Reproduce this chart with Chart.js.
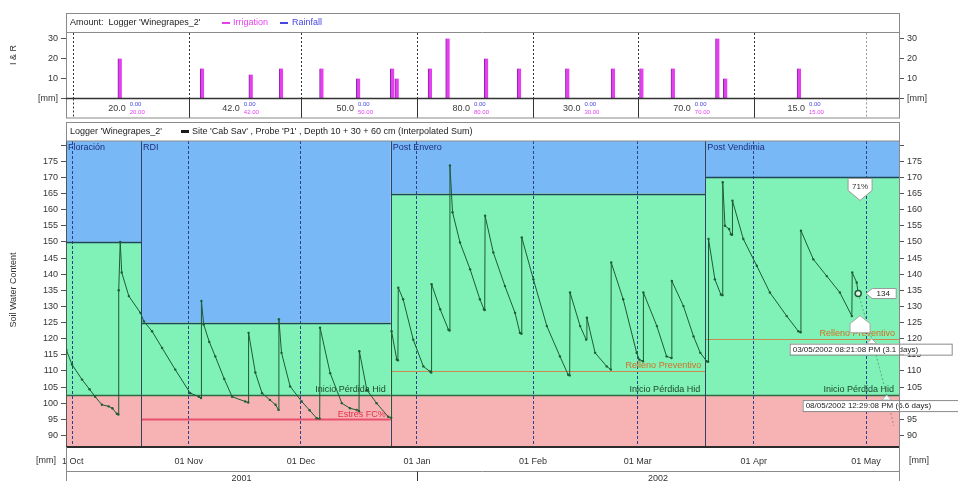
<!DOCTYPE html>
<html>
<head>
<meta charset="utf-8">
<script src="https://cdn.jsdelivr.net/npm/chart.js@4/dist/chart.umd.min.js"></script>
<style>
  html, body { margin: 0; padding: 0; background: #fff; }
  #wrap { position: relative; width: 958px; height: 481px; overflow: hidden; }
  canvas { position: absolute; left: 0; }
  #top { top: 0; }
  #main { top: 120px; }
</style>
</head>
<body>
<div id="wrap">
  <canvas id="top" width="958" height="120"></canvas>
  <canvas id="main" width="958" height="361"></canvas>
</div>
<script>
// Day numbers count from 1 Oct 2001 (day 0).
const dayMin = -1.79;
const dayMax = 220.8;

const monthStarts = [0, 31, 61, 92, 123, 151, 182, 212];
const monthLabels = ['1 Oct', '01 Nov', '01 Dec', '01 Jan', '01 Feb', '01 Mar', '01 Apr', '01 May'];
const yearStarts = [dayMin, 92];
const yearEnds = [92, dayMax];
const yearLabels = ['2001', '2002'];

// Irrigation / rainfall events [mm]
const irrigationDays = [12.6, 34.6, 47.6, 55.7, 66.5, 76.3, 85.4, 86.6, 95.5, 100.2, 110.5, 119.3, 132.2, 144.4, 152.0, 160.4, 172.3, 174.4, 194.1];
const irrigationMm   = [20,   15,   12,   15,   15,   10,   15,   10,   15,   30,    20,    15,    15,    15,    15,    15,    30,    10,    15];
const rainfallDays = [];
const rainfallMm = [];

// Soil water content, Depth 10 + 30 + 60 cm (interpolated sum) [mm]
const swcDays = [
  -1.7, -0.2, 2.5, 4.5, 6.0, 7.8, 9.6, 10.6, 11.8, 12.2, 12.3, 12.7, 13.1, 15.0, 18.1, 19.0, 21.2, 23.9, 27.4, 31.4, 33.7, 34.3,
  34.4, 35.0, 36.5, 38.1, 40.5, 42.6, 46.1, 46.9, 47.0, 48.8, 50.6, 52.7, 54.2, 55.0, 55.1, 55.8, 58.1, 61.2, 63.3, 65.2, 66.0,
  66.1, 68.8, 71.9, 74.1, 75.9, 76.5, 76.6, 78.6, 81.2, 84.3, 85.1,
  85.2, 86.6, 86.9, 87.0, 88.3, 91.0, 93.7, 95.5, 95.8, 95.9, 98.2, 100.4, 100.7, 100.8, 101.5, 103.5, 106.2, 108.8, 109.9, 110.1,
  110.2, 112.4, 115.5, 118.2, 119.5, 119.9, 120.0, 123.1, 126.7, 130.2, 132.4, 132.8, 132.9, 135.6, 137.2, 137.4, 139.6, 142.7, 143.8,
  143.9, 147.1, 150.7, 151.4, 152.4, 152.5, 156.1, 158.7, 160.0, 160.1, 163.2, 165.9, 167.7, 169.4, 169.8,
  169.9, 171.6, 173.2, 173.6, 173.7, 174.3, 175.4, 175.9, 176.2, 176.3, 179.2, 182.8, 186.3, 190.8, 193.9, 194.5,
  194.6, 197.9, 201.5, 205.0, 208.2, 208.3, 209.5, 209.9
];
const swcValues = [
  116.5, 112.0, 107.3, 104.3, 102.0, 99.5, 99.0, 98.4, 96.7, 96.5, 135.0, 150.0, 140.5, 133.2, 128.0, 125.4, 122.3, 117.1, 110.4, 103.1, 102.0, 101.6,
  131.7, 124.4, 119.0, 114.5, 107.5, 102.0, 100.5, 100.2, 121.8, 109.5, 103.1, 101.0, 99.5, 97.9, 126.0, 115.6, 105.2, 100.5, 97.8, 95.3, 95.2,
  123.4, 109.3, 100.0, 98.4, 97.9, 97.5, 116.1, 104.1, 100.0, 95.8, 95.5,
  122.3, 113.5, 113.3, 135.8, 132.2, 119.7, 111.4, 109.8, 109.5, 136.9, 129.1, 122.8, 122.5, 173.7, 159.2, 149.8, 141.5, 132.2, 129.1, 128.9,
  158.1, 146.7, 136.3, 128.0, 121.8, 121.5, 151.4, 138.4, 123.9, 114.5, 108.8, 108.6, 134.3, 123.9, 119.7, 126.5, 115.6, 111.4, 110.4,
  143.6, 132.2, 115.6, 113.5, 113.0, 134.3, 123.9, 114.5, 114.0, 137.9, 130.1, 120.7, 115.6, 113.0, 112.8,
  150.9, 138.4, 133.7, 133.5, 168.5, 155.0, 154.0, 152.4, 152.2, 162.8, 150.9, 142.6, 134.3, 127.0, 122.3, 122.0,
  153.5, 144.6, 139.4, 134.3, 127.0, 140.5, 137.4, 134.0
];

// Trend projection from the latest reading
const forecastDays = [209.9, 213.5, 217.5, 219.4];
const forecastValues = [134.0, 120.0, 102.5, 93.0];

// Crop stages and their thresholds [mm]
const stageNames  = ['Floración', 'RDI', 'Post Envero', 'Post Vendimia'];
const stageStarts = [dayMin, 18.25, 85.0, 169.0];
const stageEnds   = [18.25, 85.0, 169.0, dayMax];
const fullPoints  = [150, 125, 165, 170];
const onsetPoints = [102.5, 102.5, 102.5, 102.5];
const onsetLabels = [null, 'Inicio Pérdida Hid', 'Inicio Pérdida Hid', 'Inicio Pérdida Hid'];
const stressPoints = [null, 95, null, null];
const stressLabels = [null, 'Estrés FC%', null, null];
const refillPoints = [null, null, 110, 120];
const refillLabels = [null, null, 'Relleno Preventivo', 'Relleno Preventivo'];

// Current reading and forecast crossings
const currentDay = 209.9, currentValue = 134;
const fullPctDay = 210.4, fullPctText = '71%';
const crossDays = [213.5, 217.5];
const crossValues = [120, 102.5];
const crossTexts = ['03/05/2002 08:21:08 PM (3.1 days)', '08/05/2002 12:29:08 PM (6.6 days)'];

const FONT = "'Liberation Sans', Arial, sans-serif";
const C = {
  blue: '#79b8f7', green: '#80f1b7', red: '#f7b3b3',
  fullLine: '#1f4658', stageLine: '#33425e', onsetLine: '#2e6a45',
  stress: '#e9506b', refill: '#c98a52', grid: '#2b3d90',
  swc: '#1d5c35', text: '#333', irr: '#e63ff0', irrEdge: '#7b2a9e', rain: '#4646e0'
};

function font(sz, w) { return (w || '') + ' ' + sz + 'px ' + FONT; }

// ---------- Amount panel ----------
const monthTotals = monthStarts.slice(0, -1).map((s, i) => {
  const e = monthStarts[i + 1];
  const sum = (days, vals) => days.reduce((t, d, k) => (d >= s && d < e ? t + vals[k] : t), 0);
  return { irr: sum(irrigationDays, irrigationMm), rain: sum(rainfallDays, rainfallMm) };
});

const amountPlugin = {
  id: 'amountPanel',
  beforeDraw(chart) {
    const { ctx } = chart;
    ctx.save();
    ctx.fillStyle = '#fff';
    ctx.fillRect(0, 0, chart.width, chart.height);
    ctx.restore();
  },
  beforeDatasetsDraw(chart) {
    const { ctx, chartArea: a, scales: { x } } = chart;
    ctx.save();
    monthStarts.forEach((d, i) => {
      const px = Math.round(x.getPixelForValue(d)) + 0.5;
      const last = i === monthStarts.length - 1;
      ctx.strokeStyle = last ? '#9a9a9a' : '#333';
      ctx.lineWidth = 1;
      ctx.setLineDash([2, 2]);
      ctx.beginPath(); ctx.moveTo(px, a.top); ctx.lineTo(px, a.bottom); ctx.stroke();
      ctx.setLineDash(i === 0 || last ? [2, 2] : []);
      ctx.beginPath(); ctx.moveTo(px, a.bottom); ctx.lineTo(px, 118); ctx.stroke();
    });
    ctx.restore();
  },
  afterDraw(chart) {
    const { ctx, chartArea: a, scales: { x } } = chart;
    ctx.save();
    // frame
    ctx.strokeStyle = '#8a8a8a'; ctx.lineWidth = 1;
    ctx.strokeRect(a.left + 0.5, 13.5, a.right - a.left, 104.5);
    ctx.beginPath(); ctx.moveTo(a.left, 32.5); ctx.lineTo(a.right, 32.5); ctx.stroke();
    ctx.strokeStyle = '#333'; ctx.lineWidth = 1.5;
    ctx.beginPath(); ctx.moveTo(a.left, a.bottom); ctx.lineTo(a.right, a.bottom); ctx.stroke();
    // header
    ctx.textBaseline = 'middle';
    ctx.font = font(9);
    ctx.fillStyle = '#222';
    ctx.fillText("Amount:  Logger 'Winegrapes_2'", 70, 23);
    ctx.fillStyle = C.irr; ctx.fillRect(222, 22, 8, 2);
    ctx.fillText('Irrigation', 233, 23);
    ctx.fillStyle = C.rain; ctx.fillRect(280, 22, 8, 2);
    ctx.fillText('Rainfall', 292, 23);
    // monthly totals
    monthTotals.forEach((t, i) => {
      const cx = (x.getPixelForValue(monthStarts[i]) + x.getPixelForValue(monthStarts[i + 1])) / 2;
      ctx.font = font(9); ctx.fillStyle = '#3a3a3a'; ctx.textAlign = 'right';
      ctx.fillText((t.irr + t.rain).toFixed(1), cx - 5, 108.5);
      ctx.font = font(6); ctx.textAlign = 'left';
      ctx.fillStyle = C.rain; ctx.fillText(t.rain.toFixed(2), cx - 1, 104);
      ctx.fillStyle = C.irr; ctx.fillText(t.irr.toFixed(2), cx - 1, 112);
    });
    // axis title
    ctx.translate(14, 55); ctx.rotate(-Math.PI / 2);
    ctx.textAlign = 'center'; ctx.font = font(9); ctx.fillStyle = '#333';
    ctx.fillText('I & R', 0, 0);
    ctx.restore();
  }
};

const amountAxis = (pos, w) => ({
  position: pos, min: 0, max: 32.75,
  afterFit: s => { s.width = w; },
  ticks: { stepSize: 10, includeBounds: false, padding: 3, color: C.text, font: { size: 9, family: FONT },
           callback: v => (v === 0 ? '[mm]' : v) },
  grid: { drawOnChartArea: false, tickLength: 5, color: '#555' },
  border: { color: '#555' }
});

new Chart(document.getElementById('top'), {
  type: 'bar',
  data: {
    datasets: [
      { label: 'Irrigation', data: irrigationDays.map((d, i) => ({ x: d, y: irrigationMm[i] })),
        backgroundColor: C.irr, borderColor: C.irrEdge, borderWidth: { left: 1, right: 0, top: 0, bottom: 0 },
        barThickness: 4, grouped: false },
      { label: 'Rainfall', data: rainfallDays.map((d, i) => ({ x: d, y: rainfallMm[i] })),
        backgroundColor: C.rain, barThickness: 4, grouped: false }
    ]
  },
  options: {
    responsive: false, animation: false,
    layout: { padding: { top: 33, bottom: 21.5, left: 0, right: 0 } },
    plugins: { legend: { display: false }, tooltip: { enabled: false } },
    scales: {
      x: { type: 'linear', min: dayMin, max: dayMax, offset: false, display: false },
      y: amountAxis('left', 66),
      y2: amountAxis('right', 59)
    }
  },
  plugins: [amountPlugin]
});

// ---------- Soil water content panel ----------
function textBox(ctx, x0, y0, w, h, txt, sz) {
  ctx.fillStyle = '#fff'; ctx.strokeStyle = '#8a8a8a'; ctx.lineWidth = 1;
  ctx.fillRect(x0, y0, w, h); ctx.strokeRect(x0 + 0.5, y0 + 0.5, w, h);
  ctx.fillStyle = '#222'; ctx.font = font(sz); ctx.textAlign = 'left'; ctx.textBaseline = 'middle';
  ctx.fillText(txt, x0 + 3, y0 + h / 2 + 0.5);
}

const swcPlugin = {
  id: 'swcPanel',
  beforeDraw(chart) {
    const { ctx, chartArea: a, scales: { x, y } } = chart;
    ctx.save();
    ctx.fillStyle = '#fff'; ctx.fillRect(0, 0, chart.width, chart.height);
    stageStarts.forEach((s, i) => {
      const x0 = x.getPixelForValue(s), x1 = x.getPixelForValue(stageEnds[i]);
      const yF = y.getPixelForValue(fullPoints[i]), yO = y.getPixelForValue(onsetPoints[i]);
      ctx.fillStyle = C.blue; ctx.fillRect(x0, a.top, x1 - x0, yF - a.top);
      ctx.fillStyle = C.green; ctx.fillRect(x0, yF, x1 - x0, yO - yF);
      ctx.fillStyle = C.red; ctx.fillRect(x0, yO, x1 - x0, a.bottom - yO);
    });
    ctx.restore();
  },
  beforeDatasetsDraw(chart) {
    const { ctx, chartArea: a, scales: { x, y } } = chart;
    ctx.save();
    stageStarts.forEach((s, i) => {
      const x0 = x.getPixelForValue(s), x1 = x.getPixelForValue(stageEnds[i]);
      const hline = (v, col, w) => {
        const py = Math.round(y.getPixelForValue(v)) + 0.5;
        ctx.strokeStyle = col; ctx.lineWidth = w;
        ctx.beginPath(); ctx.moveTo(x0, py); ctx.lineTo(x1, py); ctx.stroke();
      };
      hline(fullPoints[i], C.fullLine, 1.5);
      hline(onsetPoints[i], C.onsetLine, 1.5);
      if (stressPoints[i] !== null) hline(stressPoints[i], C.stress, 2);
      if (refillPoints[i] !== null) hline(refillPoints[i], C.refill, 1.2);
      if (i > 0) {
        const px = Math.round(x0) + 0.5;
        ctx.strokeStyle = C.stageLine; ctx.lineWidth = 1;
        ctx.beginPath(); ctx.moveTo(px, a.top); ctx.lineTo(px, a.bottom); ctx.stroke();
      }
    });
    ctx.restore();
  },
  afterDraw(chart) {
    const { ctx, chartArea: a, scales: { x, y } } = chart;
    ctx.save();
    ctx.textBaseline = 'middle';
    // stage names and threshold labels
    stageStarts.forEach((s, i) => {
      const x0 = x.getPixelForValue(s), x1 = x.getPixelForValue(stageEnds[i]);
      ctx.font = font(9); ctx.textAlign = 'left'; ctx.fillStyle = '#1f2f7a';
      ctx.fillText(stageNames[i], Math.max(x0, a.left) + 2, a.top + 7);
      ctx.textAlign = 'right';
      if (onsetLabels[i]) {
        ctx.fillStyle = '#1c4a2b';
        ctx.fillText(onsetLabels[i], x1 - 5, y.getPixelForValue(onsetPoints[i]) - 6);
      }
      if (stressLabels[i]) {
        ctx.fillStyle = '#e2304c';
        ctx.fillText(stressLabels[i], x1 - 5, y.getPixelForValue(stressPoints[i]) - 5);
      }
      if (refillLabels[i]) {
        ctx.fillStyle = '#d27022';
        ctx.fillText(refillLabels[i], x1 - 4, y.getPixelForValue(refillPoints[i]) - 5);
      }
    });

    // full-point percentage marker
    const sx = x.getPixelForValue(fullPctDay), sy = y.getPixelForValue(fullPoints[3]);
    ctx.beginPath();
    ctx.moveTo(sx - 12, sy + 1); ctx.lineTo(sx + 12, sy + 1); ctx.lineTo(sx + 12, sy + 13);
    ctx.lineTo(sx, sy + 23); ctx.lineTo(sx - 12, sy + 13); ctx.closePath();
    ctx.fillStyle = '#fff'; ctx.fill(); ctx.strokeStyle = '#999'; ctx.lineWidth = 1; ctx.stroke();
    ctx.fillStyle = '#333'; ctx.font = font(8); ctx.textAlign = 'center';
    ctx.fillText(fullPctText, sx, sy + 9);

    // refill crossing marker
    const hx = x.getPixelForValue(fullPctDay), hy = y.getPixelForValue(refillPoints[3]) - 6;
    ctx.beginPath();
    ctx.moveTo(hx, hy - 17); ctx.lineTo(hx + 10, hy - 9); ctx.lineTo(hx + 10, hy);
    ctx.lineTo(hx - 10, hy); ctx.lineTo(hx - 10, hy - 9); ctx.closePath();
    ctx.fillStyle = '#fff'; ctx.fill(); ctx.strokeStyle = '#aaa'; ctx.stroke();

    // current reading
    const cx = x.getPixelForValue(currentDay), cy = y.getPixelForValue(currentValue);
    ctx.beginPath(); ctx.arc(cx, cy, 3, 0, Math.PI * 2);
    ctx.fillStyle = '#e8f5ec'; ctx.fill(); ctx.strokeStyle = C.swc; ctx.lineWidth = 1.5; ctx.stroke();
    ctx.beginPath();
    ctx.moveTo(cx + 8, cy); ctx.lineTo(cx + 14, cy - 5); ctx.lineTo(cx + 38, cy - 5);
    ctx.lineTo(cx + 38, cy + 5); ctx.lineTo(cx + 14, cy + 5); ctx.closePath();
    ctx.fillStyle = '#fff'; ctx.fill(); ctx.strokeStyle = '#999'; ctx.lineWidth = 1; ctx.stroke();
    ctx.fillStyle = '#222'; ctx.font = font(8); ctx.textAlign = 'center';
    ctx.fillText(String(currentValue), cx + 25, cy + 0.5);

    // forecast crossing call-outs
    crossDays.forEach((d, i) => {
      const px = x.getPixelForValue(d), py = y.getPixelForValue(crossValues[i]);
      ctx.beginPath(); ctx.moveTo(px, py); ctx.lineTo(px - 5, py + 5); ctx.lineTo(px + 5, py + 5); ctx.closePath();
      ctx.fillStyle = '#fff'; ctx.fill(); ctx.strokeStyle = '#aaa'; ctx.stroke();
      const bx = i === 0 ? px - 82 : px - 84;
      textBox(ctx, bx, py + 5, 162, 11, crossTexts[i], 8);
    });

    // plot frame
    ctx.strokeStyle = '#2b2b2b'; ctx.lineWidth = 2;
    ctx.beginPath(); ctx.moveTo(a.left, a.bottom); ctx.lineTo(a.right, a.bottom); ctx.stroke();
    ctx.lineWidth = 1; ctx.strokeStyle = '#8a8a8a';
    ctx.strokeRect(a.left + 0.5, 2.5, a.right - a.left, a.top - 2.5);
    ctx.beginPath(); ctx.moveTo(a.right + 0.5, a.top); ctx.lineTo(a.right + 0.5, chart.height); ctx.stroke();
    ctx.beginPath(); ctx.moveTo(a.left + 0.5, a.bottom); ctx.lineTo(a.left + 0.5, chart.height); ctx.stroke();
    ctx.beginPath(); ctx.moveTo(a.left, 351.5); ctx.lineTo(a.right, 351.5); ctx.stroke();

    // header
    ctx.textAlign = 'left'; ctx.fillStyle = '#222'; ctx.font = font(9);
    ctx.fillText("Logger 'Winegrapes_2'", 70, 11.5);
    ctx.fillStyle = '#1a1a1a'; ctx.fillRect(181, 10, 8, 3);
    ctx.fillStyle = '#222';
    ctx.fillText("Site 'Cab Sav' , Probe 'P1' , Depth 10 + 30 + 60 cm (Interpolated Sum)", 192, 11.5);

    // year row
    ctx.textAlign = 'center'; ctx.font = font(9); ctx.fillStyle = '#333';
    yearLabels.forEach((t, i) => {
      const m = (x.getPixelForValue(yearStarts[i]) + x.getPixelForValue(yearEnds[i])) / 2;
      ctx.fillText(t, m, 359);
    });
    const yb = Math.round(x.getPixelForValue(yearEnds[0])) + 0.5;
    ctx.strokeStyle = '#333';
    ctx.beginPath(); ctx.moveTo(yb, 351.5); ctx.lineTo(yb, chart.height); ctx.stroke();

    // unit labels
    ctx.font = font(9); ctx.fillStyle = '#333';
    ctx.textAlign = 'right'; ctx.fillText('[mm]', 56, a.bottom + 14);
    ctx.textAlign = 'left'; ctx.fillText('[mm]', 909, a.bottom + 14);

    // axis title
    ctx.translate(14, 170); ctx.rotate(-Math.PI / 2);
    ctx.textAlign = 'center'; ctx.fillText('Soil Water Content', 0, 0);
    ctx.restore();
  }
};

const swcAxis = (pos, w) => ({
  position: pos, min: 86.4, max: 181.3,
  afterFit: s => { s.width = w; },
  ticks: { stepSize: 5, includeBounds: false, padding: 3, color: C.text, font: { size: 9, family: FONT },
           callback: v => (v >= 180 ? '' : v) },
  grid: { drawOnChartArea: false, tickLength: 5, color: '#555' },
  border: { color: '#555' }
});

new Chart(document.getElementById('main'), {
  type: 'line',
  data: {
    datasets: [
      { label: 'Soil Water Content', data: swcDays.map((d, i) => ({ x: d, y: swcValues[i] })),
        borderColor: C.swc, borderWidth: 1, pointRadius: 1.2, pointBackgroundColor: C.swc,
        pointBorderWidth: 0, tension: 0, yAxisID: 'y' },
      { label: 'Forecast', data: forecastDays.map((d, i) => ({ x: d, y: forecastValues[i] })),
        borderColor: 'rgba(40,90,60,0.45)', borderWidth: 1, borderDash: [2, 2], pointRadius: 0,
        tension: 0, yAxisID: 'y' }
    ]
  },
  options: {
    responsive: false, animation: false,
    layout: { padding: { top: 21, bottom: 0, left: 0, right: 0 } },
    plugins: { legend: { display: false }, tooltip: { enabled: false } },
    scales: {
      x: {
        type: 'linear', min: dayMin, max: dayMax, offset: false,
        afterFit: s => { s.height = 34; },
        afterBuildTicks: s => { s.ticks = monthStarts.map(v => ({ value: v })); },
        ticks: { autoSkip: false, maxRotation: 0, padding: 9, color: C.text, font: { size: 9, family: FONT },
                 callback: v => monthLabels[monthStarts.indexOf(v)] },
        grid: { color: C.grid, lineWidth: 1, drawTicks: false, borderDash: [3, 2] },
        border: { display: false, dash: [3, 2] }
      },
      y: swcAxis('left', 66),
      y2: swcAxis('right', 59)
    }
  },
  plugins: [swcPlugin]
});
</script>
</body>
</html>
